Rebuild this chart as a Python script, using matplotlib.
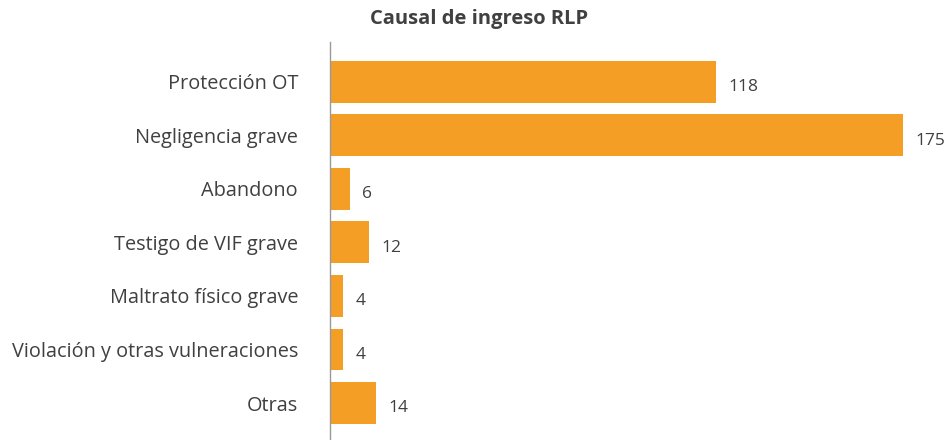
import matplotlib.pyplot as plt

# datos
categorias = ["Protección OT", "Negligencia grave", "Abandono", "Testigo de VIF grave",
              "Maltrato físico grave", "Violación y otras vulneraciones", "Otras"]
valores = [118, 175, 6, 12, 4, 4, 14]

plt.rcParams['font.family'] = ['Open Sans', 'DejaVu Sans']

fig = plt.figure(figsize=(9.45, 4.4), dpi=100)
ax = fig.add_axes([330/945, 0, (903-330)/945, (440-42)/440])

pos = list(range(len(categorias)))
ax.barh(pos, valores, height=0.78, color='#F49E26')

for p, v in zip(pos, valores):
    ax.text(v + 3.7, p + 0.1, str(v), va='center', ha='left',
            fontsize=12.5, color='#404040', clip_on=False)

ax.set_xlim(0, 175)
ax.set_ylim(6.69, -0.74)
ax.set_yticks(pos)
ax.set_yticklabels(categorias, fontsize=14.3, color='#404040')
ax.tick_params(axis='y', length=0, pad=23)
ax.set_xticks([])
for s in ['top', 'right', 'bottom']:
    ax.spines[s].set_visible(False)
ax.spines['left'].set_color('#999999')
ax.spines['left'].set_linewidth(1)

fig.text(479/945, 1 - 19/440, 'Causal de ingreso RLP', ha='center', va='center',
         fontsize=14.5, fontweight='bold', color='#404040')

fig.savefig('out.png', dpi=100)
